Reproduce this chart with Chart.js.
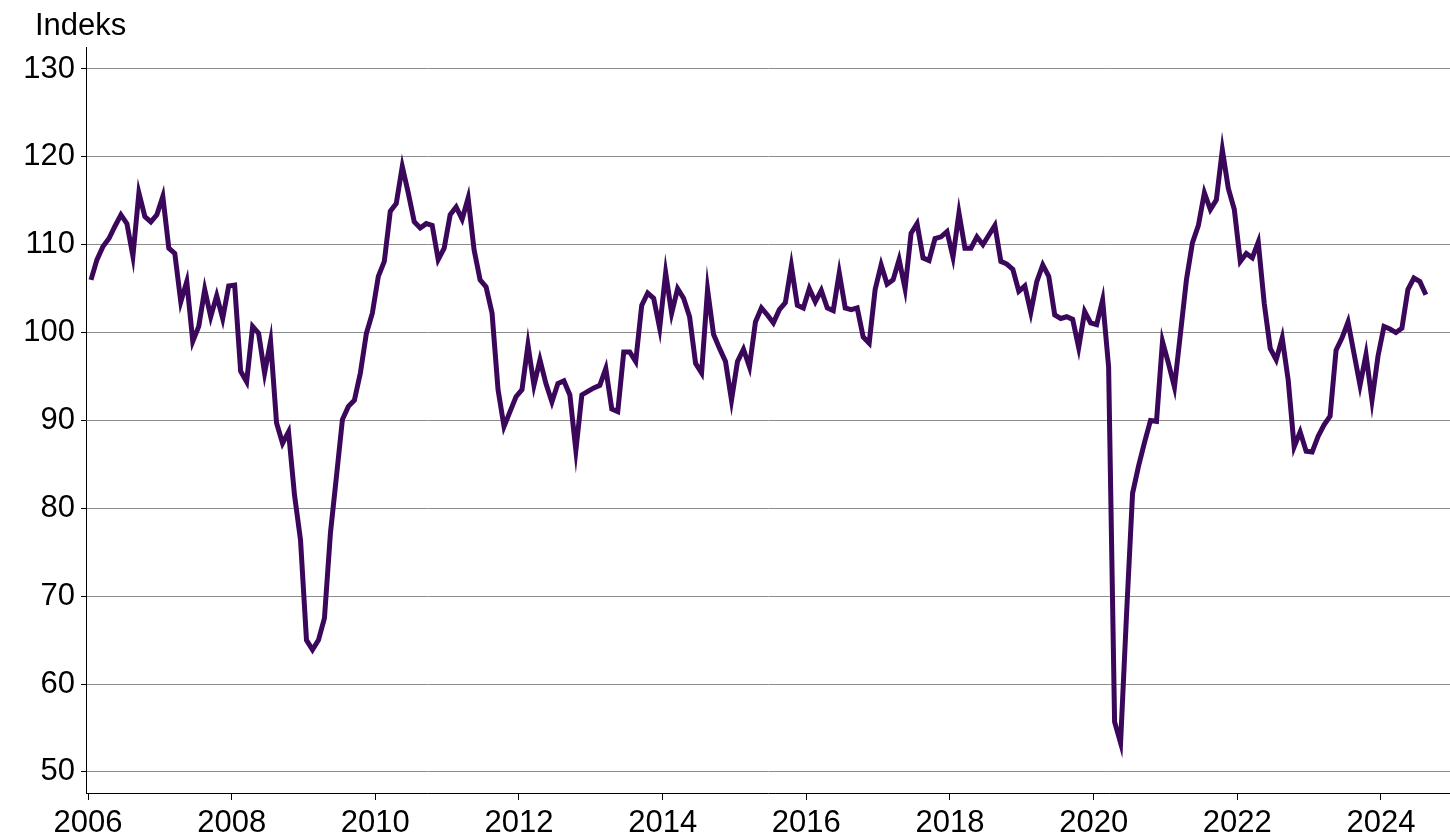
<!DOCTYPE html>
<html>
<head>
<meta charset="utf-8">
<script src="https://cdn.jsdelivr.net/npm/chart.js@4.4.1/dist/chart.umd.min.js"></script>
<style>
  html, body { margin: 0; padding: 0; background: #ffffff; }
  #wrap { width: 1450px; height: 837px; position: relative; }
</style>
</head>
<body>
<div id="wrap"><canvas id="c" width="1450" height="837"></canvas></div>
<script>
// ---- Data (monthly index, Jan 2006 - Aug 2024) ----
const startYear = 2006;
const yAxisTitle = "Indeks";
const xTickYears = [2006, 2008, 2010, 2012, 2014, 2016, 2018, 2020, 2022, 2024];
const yTickValues = [50, 60, 70, 80, 90, 100, 110, 120, 130];

const v2006 = [106.0, 108.3, 109.8, 110.7, 112.1, 113.4, 112.4, 108.7, 115.9, 113.2, 112.6, 113.4];
const v2007 = [115.5, 109.6, 109.0, 103.5, 105.8, 99.0, 100.7, 104.9, 101.8, 104.2, 101.6, 105.3];
const v2008 = [105.4, 95.6, 94.4, 100.7, 99.9, 95.4, 99.0, 89.7, 87.4, 88.7, 81.5, 76.4];
const v2009 = [65.0, 63.9, 65.0, 67.5, 77.2, 83.6, 90.1, 91.6, 92.3, 95.4, 99.9, 102.2];
const v2010 = [106.4, 108.1, 113.8, 114.7, 118.9, 115.9, 112.6, 111.9, 112.4, 112.2, 108.3, 109.6];
const v2011 = [113.4, 114.3, 112.9, 115.3, 109.4, 106.0, 105.2, 102.2, 93.5, 89.3, 91.0, 92.7];
const v2012 = [93.5, 98.6, 94.0, 96.9, 94.2, 92.1, 94.2, 94.5, 92.9, 86.6, 92.9, 93.3];
const v2013 = [93.7, 94.0, 95.9, 91.3, 91.0, 97.8, 97.8, 96.7, 103.1, 104.5, 103.9, 100.5];
const v2014 = [106.8, 102.2, 105.0, 103.9, 101.8, 96.5, 95.4, 104.9, 99.8, 98.2, 96.7, 92.3];
const v2015 = [96.7, 98.1, 96.1, 101.2, 102.8, 102.0, 101.1, 102.6, 103.4, 107.6, 103.1, 102.8];
const v2016 = [105.0, 103.5, 104.8, 102.8, 102.5, 106.8, 102.8, 102.6, 102.8, 99.5, 98.8, 104.9];
const v2017 = [107.7, 105.5, 106.0, 108.3, 105.0, 111.3, 112.4, 108.5, 108.2, 110.7, 110.9, 111.5];
const v2018 = [108.6, 113.6, 109.6, 109.6, 110.9, 110.0, 111.1, 112.2, 108.1, 107.8, 107.2, 104.7];
const v2019 = [105.3, 102.3, 105.8, 107.7, 106.4, 102.0, 101.6, 101.8, 101.5, 98.3, 102.4, 101.1];
const v2020 = [100.9, 103.7, 96.1, 55.7, 53.3, 68.0, 81.7, 84.8, 87.5, 90.0, 89.9, 99.0];
const v2021 = [96.5, 93.8, 99.9, 106.0, 110.2, 112.2, 115.9, 114.0, 115.1, 120.8, 116.4, 114.0];
const v2022 = [108.1, 109.0, 108.5, 110.3, 103.3, 98.2, 96.9, 99.4, 94.6, 87.0, 88.7, 86.5];
const v2023 = [86.4, 88.2, 89.5, 90.5, 98.0, 99.4, 101.2, 97.6, 94.0, 97.5, 92.3, 97.3];
const v2024 = [100.7, 100.4, 100.0, 100.5, 104.9, 106.2, 105.8, 104.3];

const yearlySeries = [v2006, v2007, v2008, v2009, v2010, v2011, v2012, v2013, v2014,
                      v2015, v2016, v2017, v2018, v2019, v2020, v2021, v2022, v2023, v2024];

// Build points: each month plotted at mid-month on a continuous year axis
const points = [];
yearlySeries.forEach((arr, yi) => {
  arr.forEach((val, mi) => {
    points.push({ x: startYear + yi + (mi + 0.5) / 12, y: val });
  });
});

const FONT = "'Liberation Sans', Arial, sans-serif";
const FONT_SIZE = 31;

const titlePlugin = {
  id: 'titleText',
  afterDraw(chart) {
    const ctx = chart.ctx;
    ctx.save();
    ctx.fillStyle = '#000';
    ctx.font = `${FONT_SIZE}px ${FONT}`;
    ctx.textAlign = 'left';
    ctx.textBaseline = 'middle';
    ctx.fillText(yAxisTitle, 35, 26);
    ctx.restore();
  }
};

new Chart(document.getElementById('c'), {
  type: 'line',
  data: {
    datasets: [{
      data: points,
      borderColor: '#3a075a',
      borderWidth: 5,
      pointRadius: 0,
      tension: 0,
      fill: false
    }]
  },
  options: {
    responsive: false,
    animation: false,
    layout: { padding: { top: 47, right: 0, left: 0, bottom: 0 } },
    plugins: { legend: { display: false }, tooltip: { enabled: false } },
    scales: {
      x: {
        type: 'linear',
        min: 2005.972,
        max: 2024.961,
        afterBuildTicks(scale) { scale.ticks = xTickYears.map(v => ({ value: v })); },
        afterFit(scale) { scale.height = 44; },
        ticks: {
          color: '#000',
          font: { family: FONT, size: FONT_SIZE },
          padding: 5,
          maxRotation: 0,
          autoSkip: false,
          callback: v => String(v)
        },
        grid: { drawOnChartArea: false, drawTicks: true, tickLength: 7, tickColor: '#000' },
        border: { display: true, color: '#000', width: 1 }
      },
      y: {
        type: 'linear',
        min: 47.6,
        max: 132.5,
        afterBuildTicks(scale) { scale.ticks = yTickValues.map(v => ({ value: v })); },
        afterFit(scale) { scale.width = 86; },
        ticks: {
          color: '#000',
          font: { family: FONT, size: FONT_SIZE },
          padding: 6,
          callback: v => String(v)
        },
        grid: { color: '#8c8c8c', lineWidth: 1, drawTicks: true, tickLength: 5, tickColor: '#000' },
        border: { display: true, color: '#000', width: 1 }
      }
    }
  },
  plugins: [titlePlugin]
});
</script>
</body>
</html>
